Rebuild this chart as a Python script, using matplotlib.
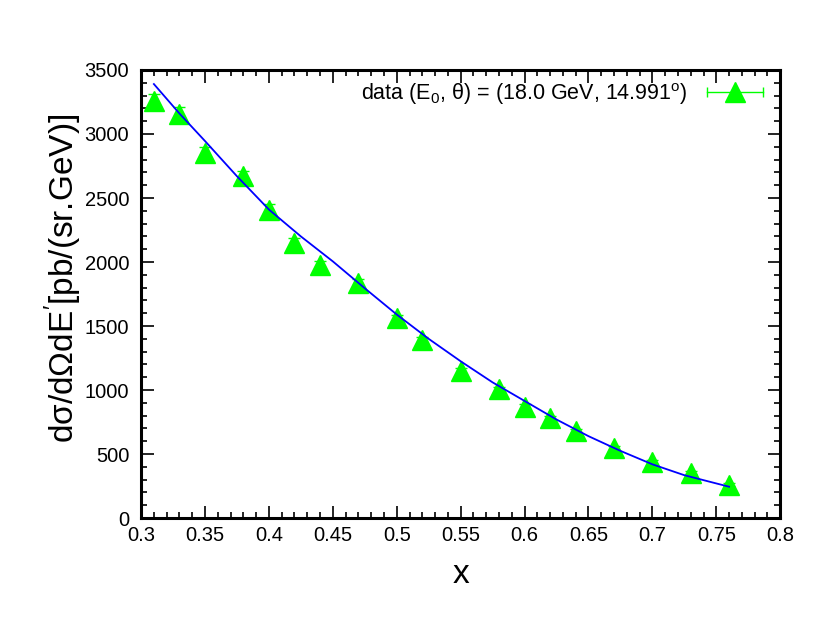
import matplotlib
matplotlib.use("Agg")
import matplotlib.pyplot as plt
from matplotlib.lines import Line2D
from matplotlib.legend_handler import HandlerLine2D, HandlerTuple
from matplotlib.ticker import MultipleLocator

plt.rcParams["font.family"] = ["Liberation Sans", "DejaVu Sans"]
plt.rcParams["mathtext.fontset"] = "custom"
plt.rcParams["mathtext.rm"] = "Liberation Sans"
plt.rcParams["mathtext.it"] = "Liberation Sans"

# measured points
x_data = [0.31, 0.33, 0.35, 0.38, 0.40, 0.42, 0.44, 0.47, 0.50, 0.52,
          0.55, 0.58, 0.60, 0.62, 0.64, 0.67, 0.70, 0.73, 0.76]
y_data = [3255, 3160, 2850, 2670, 2410, 2150, 1980, 1840, 1560, 1390,
          1145, 1005, 870, 780, 680, 545, 438, 355, 262]
y_err = [60, 50, 45, 40, 40, 35, 30, 30, 30, 25,
         25, 20, 20, 20, 15, 15, 15, 12, 10]

# model curve
x_fit = [0.31, 0.33, 0.35, 0.375, 0.40, 0.425, 0.45, 0.475, 0.50, 0.525,
         0.55, 0.575, 0.60, 0.625, 0.65, 0.675, 0.70, 0.725, 0.76]
y_fit = [3390, 3160, 2945, 2670, 2410, 2200, 2005, 1795, 1590, 1400,
         1225, 1060, 915, 770, 640, 525, 420, 335, 245]

legend_label = r"data (E$_0$, θ) = (18.0 GeV, 14.991$^{\mathrm{o}}$)"

fig = plt.figure(figsize=(8.3, 6.42), dpi=100)
ax = fig.add_axes([0.170, 0.193, 0.770, 0.698])

green = "#00ff00"
ax.errorbar(x_data, y_data, yerr=y_err, fmt="none", ecolor=green,
            elinewidth=1.0, capsize=4, capthick=1.0, zorder=2)
ax.plot(x_data, y_data, linestyle="none", marker="^", ms=14,
        color=green, zorder=3)
ax.plot(x_fit, y_fit, color="#0000ff", lw=1.3, zorder=4)

ax.set_xlim(0.3, 0.8)
ax.set_ylim(0, 3500)
ax.xaxis.set_major_locator(MultipleLocator(0.05))
ax.xaxis.set_minor_locator(MultipleLocator(0.01))
ax.yaxis.set_major_locator(MultipleLocator(500))
ax.yaxis.set_minor_locator(MultipleLocator(100))
ax.set_xticklabels([f"{v:g}" for v in ax.get_xticks()])
ax.tick_params(which="both", direction="in", top=True, right=True,
               width=1.2, labelsize=14.5)
ax.tick_params(axis="y", which="both", pad=8.5)
ax.tick_params(axis="x", which="both", pad=5.5)
ax.tick_params(which="major", length=9)
ax.tick_params(which="minor", length=4.5)
for s in ax.spines.values():
    s.set_linewidth(2.2)

ax.set_xlabel("x", fontsize=24, labelpad=10)
ax.set_ylabel(r"dσ/dΩdE$^{\prime}$[pb/(sr.GeV)]", fontsize=24)
ax.yaxis.set_label_coords(-0.09, 0.535)

cap_h = Line2D([], [], color=green, lw=1.0, marker="|", ms=7, mew=1.0)
tri_h = Line2D([], [], color=green, linestyle="none", marker="^", ms=14)
ax.legend([(cap_h, tri_h)], [legend_label], loc="upper right",
          frameon=False, markerfirst=False, fontsize=15.5,
          handlelength=3.2, borderaxespad=0.3, handletextpad=0.6,
          borderpad=0.2,
          handler_map={cap_h: HandlerLine2D(numpoints=2),
                       tri_h: HandlerLine2D(numpoints=1),
                       tuple: HandlerTuple(ndivide=1)})

fig.savefig("out.png", dpi=100)
